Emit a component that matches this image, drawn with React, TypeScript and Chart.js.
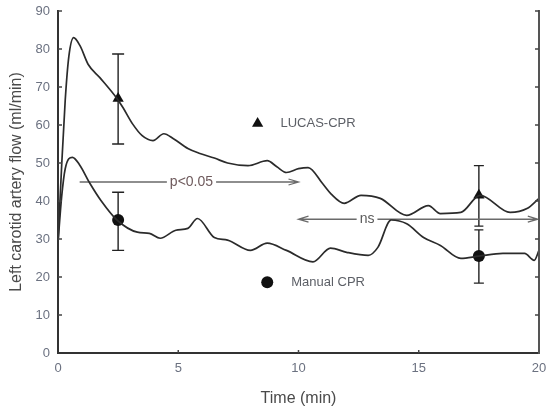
import { useEffect, useRef } from 'react';
import { Chart, registerables } from 'chart.js';

Chart.register(...registerables);

// ---- data ----
const lucasTime = [0, 0.15, 0.3, 0.45, 0.65, 0.92, 1.25, 1.75, 2.45, 2.7, 3.1, 3.5, 3.95, 4.4, 4.8, 5.4, 5.9, 6.5, 7.05, 7.9, 8.7, 9.1, 9.5, 10.0, 10.4, 11.0, 11.35, 11.9, 12.6, 13.4, 14.5, 15.4, 15.9, 16.75, 17.55, 18.8, 19.5, 20];
const lucasFlow = [29, 49, 66.5, 78, 83, 80.8, 76, 72.4, 67, 64.6, 60.3, 57.2, 55.9, 57.7, 56.4, 53.8, 52.5, 51.3, 50, 49.3, 50.6, 49, 47.5, 48.5, 48.8, 44.6, 41.9, 39.4, 41.5, 40.7, 36.2, 38.8, 36.7, 37, 41.5, 37, 38, 40.7];

const manualTime = [0, 0.15, 0.3, 0.6, 0.9, 1.33, 1.8, 2.45, 3.3, 3.8, 4.25, 4.9, 5.4, 5.8, 6.5, 7.05, 8.0, 8.7, 9.5, 10.6, 11.33, 12.0, 12.9, 13.3, 13.85, 14.5, 15.2, 15.9, 16.75, 17.5, 18.5, 19.4, 19.8, 20];
const manualFlow = [29, 41, 48.5, 51.5, 49.5, 44.6, 40, 35, 31.8, 31.5, 30.2, 32.3, 32.8, 35.4, 30.4, 29.7, 27, 28.9, 27, 24, 27.6, 26.5, 25.7, 27.8, 35, 34, 30.4, 28.3, 24.9, 25.5, 26.2, 26.2, 24.4, 27];

const markerTime = [2.5, 17.5];
const lucasMean = [67, 41.5];
const lucasLow = [55, 33.4];
const lucasHigh = [78.7, 49.3];
const manualMean = [35, 25.5];
const manualLow = [27, 18.4];
const manualHigh = [42.3, 32.4];

const legendLabels = ['LUCAS-CPR', 'Manual CPR'];
const legendMarkX = [8.3, 8.7];
const legendTextX = [9.25, 9.7];
const legendY = [60.4, 18.6];

const arrowLabels = ['p<0.05', 'ns'];
const arrowFrom = [0.9, 10.0];
const arrowTo = [10.0, 19.95];
const arrowY = [45, 35.2];
const arrowLabelX = [5.55, 12.85];
const arrowHeadsLeft = [false, true];

const xTickStep = 5;
const yTickStep = 10;
const xTitle = 'Time (min)';
const yTitle = 'Left carotid artery flow (ml/min)';

const FONT = "'Liberation Sans', Arial, Helvetica, sans-serif";

const pts = (xs: number[], ys: number[]) => xs.map((x, i) => ({ x, y: ys[i] }));

const overlay = {
  id: 'overlay',
  beforeDatasetsDraw(chart: any) {
    const { ctx, scales } = chart;
    const xs = scales.x;
    const ys = scales.y;
    ctx.save();
    // error bars
    ctx.strokeStyle = '#222';
    ctx.lineWidth = 1.4;
    const bar = (t: number, lo: number, hi: number, capLo: number, capHi: number) => {
      const px = xs.getPixelForValue(t);
      const pl = ys.getPixelForValue(lo);
      const ph = ys.getPixelForValue(hi);
      ctx.beginPath();
      ctx.moveTo(px, pl);
      ctx.lineTo(px, ph);
      ctx.moveTo(px - capLo, pl);
      ctx.lineTo(px + capLo, pl);
      ctx.moveTo(px - capHi, ph);
      ctx.lineTo(px + capHi, ph);
      ctx.stroke();
    };
    markerTime.forEach((t, i) => {
      const late = i === 1;
      bar(t, lucasLow[i], lucasHigh[i], late ? 4.5 : 6, late ? 5 : 6);
      bar(t, manualLow[i], manualHigh[i], late ? 5 : 6, late ? 4.5 : 6);
    });
    // arrows
    ctx.strokeStyle = '#6a6a6a';
    ctx.lineWidth = 1.3;
    arrowLabels.forEach((lab, i) => {
      const x1 = xs.getPixelForValue(arrowFrom[i]);
      const x2 = xs.getPixelForValue(arrowTo[i]);
      const y = ys.getPixelForValue(arrowY[i]);
      ctx.beginPath();
      ctx.moveTo(x1, y);
      ctx.lineTo(x2, y);
      ctx.moveTo(x2 - 10, y - 3);
      ctx.lineTo(x2, y);
      ctx.lineTo(x2 - 10, y + 3);
      if (arrowHeadsLeft[i]) {
        ctx.moveTo(x1 + 10, y - 3);
        ctx.lineTo(x1, y);
        ctx.lineTo(x1 + 10, y + 3);
      }
      ctx.stroke();
      ctx.font = `14px ${FONT}`;
      const w = ctx.measureText(lab).width;
      const cx = xs.getPixelForValue(arrowLabelX[i]);
      ctx.fillStyle = '#fff';
      ctx.fillRect(cx - w / 2 - 3, y - 8, w + 6, 16);
      ctx.fillStyle = i === 0 ? '#6e5a5c' : '#5a5a5a';
      ctx.textAlign = 'center';
      ctx.textBaseline = 'middle';
      ctx.fillText(lab, cx, y);
    });
    ctx.restore();
  },
  afterDraw(chart: any) {
    const { ctx, scales, chartArea } = chart;
    const xs = scales.x;
    const ys = scales.y;
    const { left, right, top, bottom } = chartArea;
    ctx.save();
    // legend texts
    ctx.font = `13px ${FONT}`;
    ctx.fillStyle = '#5c5f66';
    ctx.textAlign = 'left';
    ctx.textBaseline = 'middle';
    legendLabels.forEach((lab, i) => {
      ctx.fillText(lab, xs.getPixelForValue(legendTextX[i]), ys.getPixelForValue(legendY[i]));
    });
    // frame
    ctx.lineCap = 'square';
    ctx.strokeStyle = '#333';
    ctx.lineWidth = 2;
    ctx.beginPath();
    ctx.moveTo(left, top);
    ctx.lineTo(left, bottom);
    ctx.lineTo(right, bottom);
    ctx.stroke();
    ctx.strokeStyle = '#555';
    ctx.beginPath();
    ctx.moveTo(right, top);
    ctx.lineTo(right, bottom);
    ctx.stroke();
    ctx.lineCap = 'butt';
    ctx.lineWidth = 1.5;
    ctx.strokeStyle = '#444';
    ctx.beginPath();
    for (let v = 10; v <= 90; v += yTickStep) {
      const py = ys.getPixelForValue(v);
      ctx.moveTo(left, py);
      ctx.lineTo(left + 4, py);
      ctx.moveTo(right, py);
      ctx.lineTo(right - 4, py);
    }
    for (let v = xTickStep; v < 20; v += xTickStep) {
      const px = xs.getPixelForValue(v);
      ctx.moveTo(px, bottom);
      ctx.lineTo(px, bottom - 3);
    }
    ctx.stroke();
    ctx.restore();
  },
};

export default function App() {
  const ref = useRef<HTMLCanvasElement | null>(null);
  useEffect(() => {
    if (!ref.current) return;
    const lineCommon = {
      type: 'line' as const,
      borderColor: '#2b2b2b',
      borderWidth: 1.7,
      pointRadius: 0,
      fill: false,
      cubicInterpolationMode: 'monotone' as const,
    };
    const chart = new Chart(ref.current, {
      type: 'line',
      data: {
        datasets: [
          { ...lineCommon, label: 'LUCAS-CPR', data: pts(lucasTime, lucasFlow) },
          { ...lineCommon, label: 'Manual CPR', data: pts(manualTime, manualFlow) },
          {
            type: 'scatter',
            label: 'LUCAS mean',
            data: pts([...markerTime, legendMarkX[0]], [...lucasMean, legendY[0]]),
            pointStyle: 'triangle',
            pointRadius: 6.5,
            backgroundColor: '#111',
            borderColor: '#111',
            borderWidth: 0,
          },
          {
            type: 'scatter',
            label: 'Manual mean',
            data: pts([...markerTime, legendMarkX[1]], [...manualMean, legendY[1]]),
            pointStyle: 'circle',
            pointRadius: 6,
            backgroundColor: '#111',
            borderColor: '#111',
            borderWidth: 0,
          },
        ],
      },
      options: {
        animation: false,
        responsive: true,
        maintainAspectRatio: false,
        layout: { padding: 0 },
        plugins: { legend: { display: false }, tooltip: { enabled: false } },
        scales: {
          x: {
            type: 'linear',
            min: 0,
            max: 20,
            grid: { display: false, drawTicks: false },
            border: { display: false },
            ticks: { stepSize: xTickStep, padding: 8, color: '#6b7180', font: { family: FONT, size: 13 }, maxRotation: 0 },
            title: { display: true, text: xTitle, color: '#4a4a4a', font: { family: FONT, size: 16 }, padding: { top: 2, bottom: 1 } },
            afterFit: (s: any) => { s.height = 56; s.paddingLeft = 0; s.paddingRight = 7; },
          },
          y: {
            type: 'linear',
            min: 0,
            max: 90,
            grid: { display: false, drawTicks: false },
            border: { display: false },
            ticks: { stepSize: yTickStep, padding: 8, color: '#6b7180', font: { family: FONT, size: 13 } },
            title: { display: true, text: yTitle, color: '#4a4a4a', font: { family: FONT, size: 16 }, padding: { top: 7, bottom: 0 } },
            afterFit: (s: any) => { s.width = 58; s.paddingTop = 11; s.paddingBottom = 0; },
          },
        },
      },
      plugins: [overlay],
    });
    return () => chart.destroy();
  }, []);
  return (
    <div style={{ position: 'fixed', left: 0, top: 0, width: 546, height: 409, background: '#fff' }}>
      <canvas ref={ref} />
    </div>
  );
}
